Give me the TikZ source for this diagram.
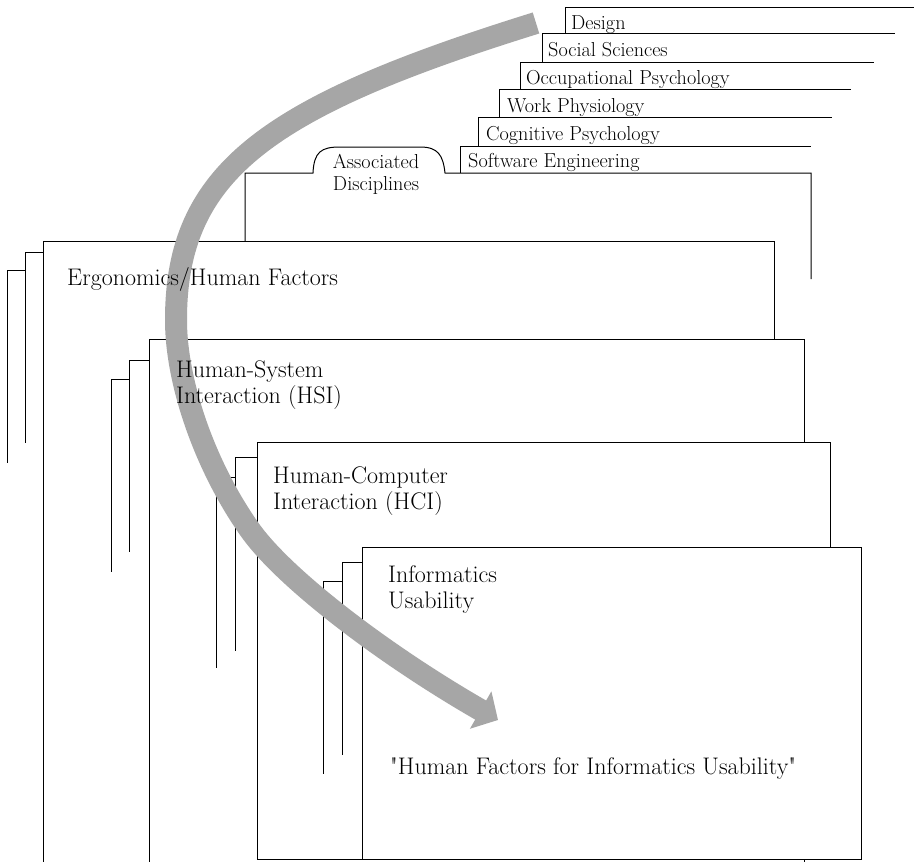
\documentclass[tikz,border=0pt]{standalone}
\usetikzlibrary{arrows.meta}
\begin{document}
\begin{tikzpicture}[
    x=1pt, y=-1pt,
    edge/.style={line width=1pt},
    frame/.style={draw, line width=1pt, fill=white},
    main/.style={anchor=base west, inner sep=0pt, align=left, font=\fontsize{24}{25.5}\selectfont},
    tablabel/.style={anchor=base west, inner sep=0pt, font=\fontsize{20.2}{22}\selectfont},
    bigarrow/.style={draw=black!35, line width=22pt, -{Triangle[length=20pt, width=42pt]}}
]
    \useasboundingbox (0,0) rectangle (916,862);
    \clip (0,0) rectangle (916,862);

    % Registerkarten
    \draw[edge] (565,33) -- (565,7) -- (914,7);
    \draw[edge] (542,62) -- (542,33) -- (895,33);
    \draw[edge] (520,89) -- (520,62) -- (874,62);
    \draw[edge] (499,117) -- (499,89) -- (851,89);
    \draw[edge] (478,146) -- (478,117) -- (832,117);
    \draw[edge] (460,173) -- (460,146) -- (811,146);

    % Reiter Associated Disciplines
    \draw[edge] (245,241) -- (245,173) -- (313,173)
        .. controls (314,152) and (321,147) .. (340,147) -- (420,147)
        .. controls (438,147) and (443,155) .. (445,173) -- (811,173) -- (811,279);

    % Rahmen mit Blattkanten
    \draw[edge] (43,252) -- (25,252) -- (25,443);
    \draw[edge] (25,270) -- (7,270) -- (7,463);
    \draw[frame] (43,241) rectangle (774,880);

    \draw[edge] (149,360) -- (129,360) -- (129,552);
    \draw[edge] (129,379) -- (111,379) -- (111,572);
    \draw[frame] (149,339) rectangle (804,880);

    \draw[edge] (257,457) -- (235,457) -- (235,651);
    \draw[edge] (235,477) -- (216,477) -- (216,668);
    \draw[frame] (257,442) rectangle (830,859);

    \draw[edge] (362,562) -- (342,562) -- (342,755);
    \draw[edge] (342,581) -- (323,581) -- (323,774);
    \draw[frame] (362,547) rectangle (861,859);

    % Pfeil
    \coordinate (tail) at (536,23);
    \coordinate (bend) at (176,320);
    \coordinate (turn) at (250,530);
    \coordinate (tip) at (498,720);
    \draw[bigarrow] (tail) .. controls (266,107) and (176,172) .. (bend)
        .. controls (176,384) and (206,468) .. (turn)
        .. controls (284,578) and (383,654) .. (tip);

    % Beschriftungen
    \node[tablabel] (design) at (571,29) {Design};
    \node[tablabel] (social) at (548,56) {Social Sciences};
    \node[tablabel] (occup) at (526,84) {Occupational Psychology};
    \node[tablabel] (work) at (507,112) {Work Physiology};
    \node[tablabel] (cogn) at (486,140) {Cognitive Psychology};
    \node[tablabel] (software) at (468,167) {Software Engineering};
    \node[tablabel, anchor=base, align=center] (assoc) at (376,190) {Associated\\Disciplines};

    \node[main] (ergo) at (67,285) {Ergonomics/Human Factors};
    \node[main] (hsi) at (176,403) {Human-System\\Interaction (HSI)};
    \node[main] (hci) at (273,509) {Human-Computer\\Interaction (HCI)};
    \node[main] (info) at (388,608) {Informatics\\Usability};
    \node[main] (quote) at (390,774) {\textquotedbl Human Factors for Informatics Usability\textquotedbl};
\end{tikzpicture}
\end{document}
